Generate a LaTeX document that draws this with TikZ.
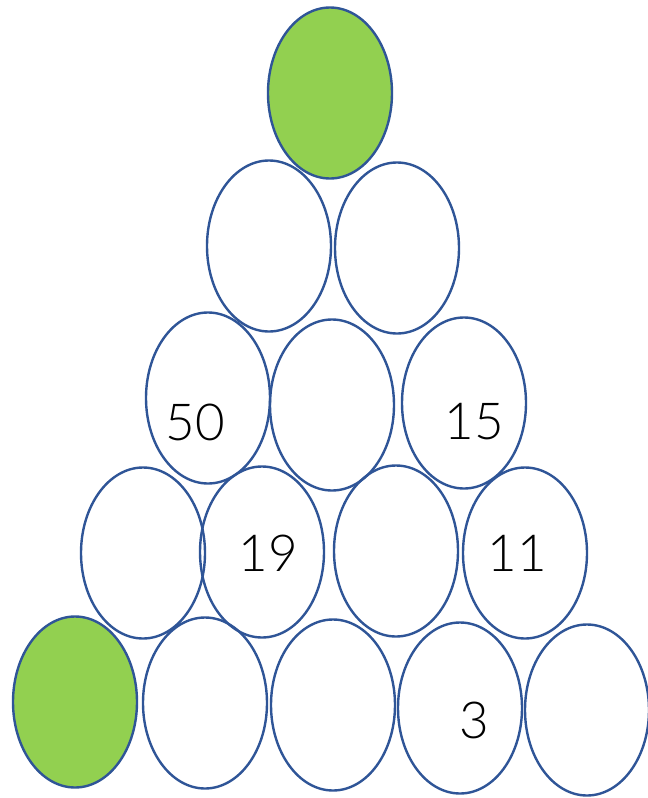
\documentclass[tikz,border=0pt]{standalone}
\usepackage{fontspec}
\setmainfont{Lato Light}
\usetikzlibrary{shapes.geometric}

\begin{document}
\begin{tikzpicture}[
  x=1pt, y=-1pt,
  egg/.style={ellipse, draw=eggline, line width=2.4pt, inner sep=0pt,
              minimum width=124pt, minimum height=171pt},
  full/.style={egg, fill=eggfill},
  num/.style={font=\fontsize{51}{51}\selectfont, inner sep=0pt}
]
\definecolor{eggline}{HTML}{2F5597}
\definecolor{eggfill}{HTML}{92D050}
\useasboundingbox (0,0) rectangle (648,798);

% top
\node[full] (a1) at (330,93) {};
% second row
\node[egg] (b1) at (269,246) {};
\node[egg] (b2) at (397,248) {};
% third row
\node[egg] (c1) at (208,398) {};
\node[egg] (c2) at (332,405) {};
\node[egg] (c3) at (464,403) {};
% fourth row
\node[egg] (d1) at (143,553) {};
\node[egg] (d2) at (262,552) {};
\node[egg] (d3) at (396,551) {};
\node[egg] (d4) at (525,553) {};
% bottom row
\node[full] (e1) at (75,702) {};
\node[egg] (e2) at (205,703) {};
\node[egg] (e3) at (333,705) {};
\node[egg] (e4) at (460,708) {};
\node[egg] (e5) at (587,710) {};

% numbers
\node[num] (t50) at (195,422) {50};
\node[num] (t15) at (474,422) {15};
\node[num] (t19) at (268,553) {19};
\node[num] (t11) at (517,553) {11};
\node[num] (t3) at (474,720) {3};
\end{tikzpicture}
\end{document}
